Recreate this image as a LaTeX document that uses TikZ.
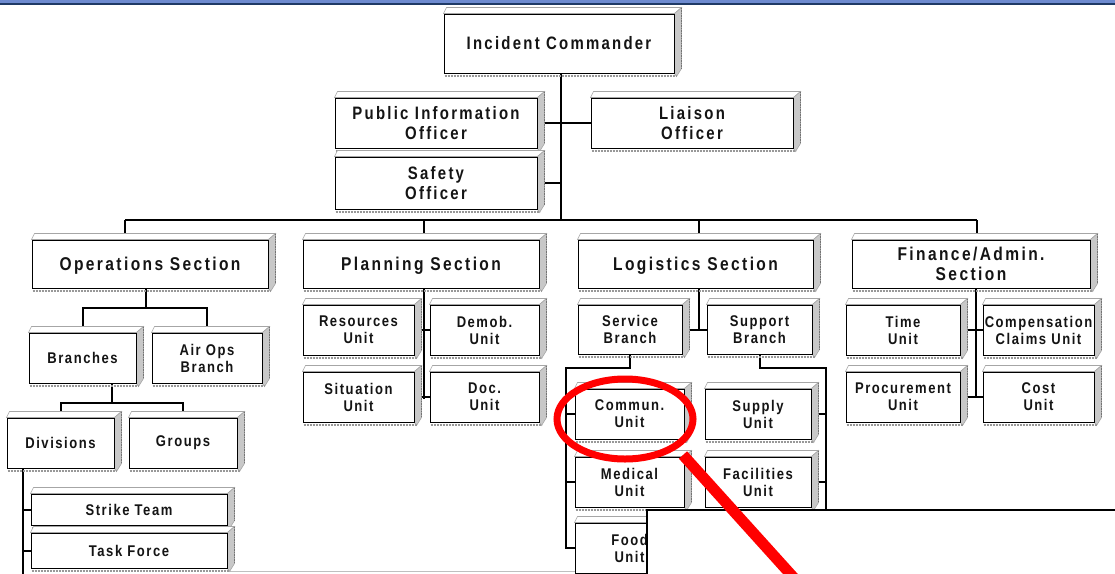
\documentclass[tikz,border=0pt]{standalone}
\usepackage{fontspec}
\setmainfont{Liberation Sans}
\newfontfamily\lsbig[LetterSpace=12.5, FakeStretch=0.83]{Liberation Sans}
\newfontfamily\lssec[LetterSpace=13, FakeStretch=0.84]{Liberation Sans}
\newfontfamily\lssmall[LetterSpace=10, FakeStretch=0.84]{Liberation Sans}
\usetikzlibrary{calc}
\pgfdeclarelayer{paper}\pgfdeclarelayer{bg}\pgfdeclarelayer{faces}\pgfdeclarelayer{top}
\pgfsetlayers{paper,bg,faces,main,top}
\definecolor{barlight}{HTML}{6E8BD0}
\definecolor{barnavy}{HTML}{1F3A66}
\definecolor{sidegray}{HTML}{C8C8C8}
\definecolor{txt}{HTML}{141414}
\tikzset{
 box/.style={draw=black, line width=1pt, fill=white, inner sep=0pt, align=center, text=txt},
 bigbox/.style={box, font=\lsbig\bfseries\fontsize{18}{20}\selectfont},
 secbox/.style={box, text depth=0pt, font=\lssec\bfseries\fontsize{18.5}{20}\selectfont},
 smallbox/.style={box, font=\lssmall\bfseries\fontsize{15.5}{17}\selectfont},
 link/.style={draw=black, line width=2pt},
 topface/.style={fill=white, draw=gray!70, line width=0.6pt},
 sideface/.style={fill=sidegray, draw=gray!70, line width=0.6pt},
 sideedge/.style={draw=gray!90!black, line width=1pt, dash pattern=on 1.5pt off 1pt},
 shadow/.style={draw=gray!80, line width=1.6pt, dash pattern=on 2pt off 1pt},
 redring/.style={draw=red, line width=7pt},
 redbar/.style={draw=red, line width=11pt},
}
\newcommand\obox[7]{%
 \node[#2, minimum width=#5pt, minimum height=#6pt] (#1) at (#3,#4) {#7};
 \begin{pgfonlayer}{faces}
 \path[topface] (#1.north west) -- ++(3,-6) -- ($(#1.north east)+(7,-6)$) -- (#1.north east) -- cycle;
 \path[sideface] (#1.north east) -- ++(7,-6) -- ($(#1.south east)+(7,-5)$) -- ($(#1.south east)+(2,3)$) -- (#1.south east) -- cycle;
 \path[sideedge] ($(#1.north east)+(7,-6)$) -- ($(#1.south east)+(7,-5)$);
 \path[shadow] ($(#1.south west)+(1,2.5)$) -- ($(#1.south east)+(2,2.5)$);
 \end{pgfonlayer}}
\begin{document}
\begin{tikzpicture}[x=1pt, y=-1pt]
\useasboundingbox (0,0) rectangle (1115,573);
\begin{pgfonlayer}{paper}
\fill[white] (0,0) rectangle (1115,573);
\fill[barlight] (0,0) rectangle (1115,2.5);
\fill[barnavy] (0,2.5) rectangle (1115,5);
\end{pgfonlayer}

\obox{ic}{bigbox}{559}{43.5}{230}{59}{Incident Commander}
\obox{pio}{bigbox}{436}{123}{202}{50}{Public Information\\Officer}
\obox{safety}{bigbox}{436}{183}{202}{52}{Safety\\Officer}
\obox{liaison}{bigbox}{692}{123}{202}{50}{Liaison\\Officer}
\obox{ops}{secbox}{150}{264}{236}{48}{Operations Section}
\obox{plan}{secbox}{421}{264}{236}{48}{Planning Section}
\obox{logi}{secbox}{695.5}{264}{235}{48}{Logistics Section}
\obox{fin}{secbox}{971}{264}{238}{48}{Finance/Admin.\\Section}
\obox{branches}{smallbox}{82.5}{358}{107}{50}{Branches}
\obox{airops}{smallbox}{207}{358}{110}{50}{Air Ops\\Branch}
\obox{divisions}{smallbox}{60.5}{443}{107}{50}{Divisions}
\obox{groups}{smallbox}{183}{443}{108}{50}{Groups}
\obox{strike}{smallbox}{129}{509.5}{196}{31}{Strike Team}
\obox{task}{smallbox}{129}{550.5}{196}{35}{Task Force}
\obox{res}{smallbox}{358.5}{330}{111}{50}{Resources\\Unit}
\obox{demob}{smallbox}{484.5}{330}{109}{50}{Demob.\\Unit}
\obox{sit}{smallbox}{358.5}{397}{111}{50}{Situation\\Unit}
\obox{doc}{smallbox}{484.5}{397}{109}{50}{Doc.\\Unit}
\obox{service}{smallbox}{630}{329.5}{104}{49}{Service\\Branch}
\obox{support}{smallbox}{759.5}{329.5}{105}{49}{Support\\Branch}
\obox{commun}{smallbox}{629.5}{414}{109}{50}{Commun.\\Unit}
\obox{medical}{smallbox}{629.5}{482}{109}{50}{Medical\\Unit}
\obox{food}{smallbox}{629.5}{548}{109}{50}{Food\\Unit}
\obox{supply}{smallbox}{758}{414}{106}{50}{Supply\\Unit}
\obox{facil}{smallbox}{758}{482}{106}{50}{Facilities\\Unit}
\obox{time}{smallbox}{903}{330}{114}{50}{Time\\Unit}
\obox{comp}{smallbox}{1038.5}{330}{111}{50}{Compensation\\Claims Unit}
\obox{proc}{smallbox}{903}{397}{114}{50}{Procurement\\Unit}
\obox{cost}{smallbox}{1038.5}{397}{111}{50}{Cost\\Unit}

\begin{pgfonlayer}{bg}
\coordinate (trunk) at (561,220);
\coordinate (busL) at (125,220);
\coordinate (busR) at (977,220);
\coordinate (pd) at (424,220);
\coordinate (ld) at (699,220);
\draw[link] (ic.south -| trunk) -- (trunk);
\draw[link] (pio.east) -- (pio.east -| trunk);
\draw[link] (safety.east) -- (safety.east -| trunk);
\draw[link] (liaison.west) -- (liaison.west -| trunk);
\draw[link] (busL) -- (busR);
\draw[link] (busL) -- (busL |- ops.north);
\draw[link] (pd) -- (pd |- plan.north);
\draw[link] (ld) -- (ld |- logi.north);
\draw[link] (busR) -- (busR |- fin.north);
% operations
\coordinate (o1) at (146,308);
\draw[link] (ops.south -| o1) -- (o1);
\draw[link] (branches.north) |- (o1) -| (airops.north);
\coordinate (b1) at (112,403);
\draw[link] (branches.south -| b1) -- (b1);
\draw[link] (divisions.north) |- (b1) -| (groups.north);
\coordinate (dv) at (23,580);
\draw[link] (divisions.south -| dv) -- (dv);
\draw[link] (strike.west) -- (strike.west -| dv);
\draw[link] (task.west) -- (task.west -| dv);
% planning
\coordinate (p1) at (424,399);
\draw[link] (plan.south -| p1) -- (p1);
\draw[link] (res.east) -- (demob.west);
\draw[link] (sit.east) -- (doc.west);
% logistics
\coordinate (l1) at (699,330);
\draw[link] (logi.south -| l1) -- (l1);
\draw[link] (service.east) -- (support.west);
\coordinate (s1) at (566,368);
\draw[link] (service.south) |- (s1) |- (food.west);
\draw[link] (commun.west) -- (commun.west -| s1);
\draw[link] (medical.west) -- (medical.west -| s1);
\coordinate (u1) at (826,368);
\coordinate (u2) at (826,530);
\draw[link] (support.south) |- (u1) -- (u2);
\draw[link] (supply.east) -- (supply.east -| u1);
\draw[link] (facil.east) -- (facil.east -| u1);
% finance
\coordinate (f1) at (976,397);
\draw[link] (fin.south -| f1) -- (f1);
\draw[link] (time.east) -- (comp.west);
\draw[link] (proc.east) -- (cost.west);
\draw[gray!50, line width=0.8pt] (230,571.5) -- (647,571.5);
\end{pgfonlayer}

\begin{pgfonlayer}{top}
\coordinate (cb) at (647,510);
\fill[white] (cb) rectangle (1125,585);
\draw[black, line width=1.5pt] (647,585) -- (cb) -- (1125,510);
\draw[redring] (625,419) ellipse [x radius=68pt, y radius=40pt];
\draw[redbar] (683,455) -- (794,578);
\end{pgfonlayer}
\end{tikzpicture}
\end{document}
